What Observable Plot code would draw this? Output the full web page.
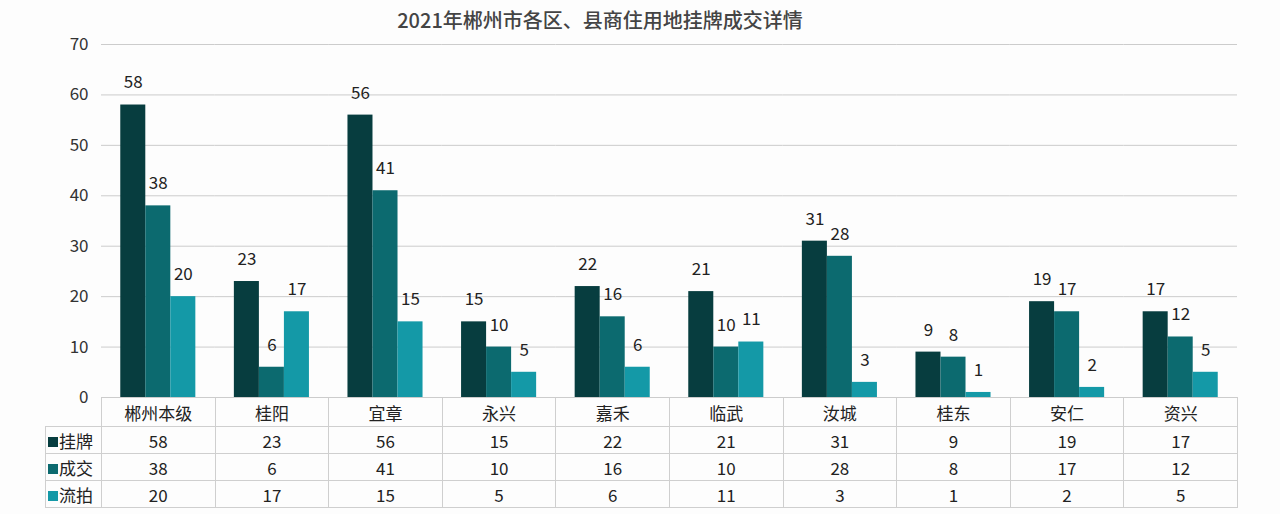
<!DOCTYPE html>
<html>
<head>
<meta charset="utf-8">
<script src="https://cdn.jsdelivr.net/npm/d3@7"></script>
<script src="https://cdn.jsdelivr.net/npm/@observablehq/plot@0.6"></script>
<style>
  html, body { margin: 0; padding: 0; background: #fdfdfd; }
  body { width: 1280px; height: 514px; overflow: hidden; font-family: "Noto Sans CJK SC", "Noto Sans", sans-serif; }
  #title { height: 40px; line-height: 40px; width: 1200px; text-align: center; font-size: 20px; color: #444; font-weight: 500; }
  #chart svg { overflow: visible; display: block; }
  table { border-collapse: collapse; margin-left: 45px; table-layout: fixed; font-size: 17px; color: #222; }
  td { border: 1px solid #cfcfcf; text-align: center; padding: 0; }
  tr.head td { height: 28px; }
  tr.row td { height: 26px; }
  td.lab { text-align: left; padding-left: 2px; white-space: nowrap; }
  td.corner { border: none; }
  .sw { display: inline-block; width: 10px; height: 10px; margin-right: 1px; vertical-align: 1px; }
</style>
</head>
<body>
<div id="title">2021年郴州市各区、县商住用地挂牌成交详情</div>
<div id="chart"></div>
<table id="tbl"></table>
<script>
const categories = ["郴州本级", "桂阳", "宜章", "永兴", "嘉禾", "临武", "汝城", "桂东", "安仁", "资兴"];
const seriesNames = ["挂牌", "成交", "流拍"];
const listed = [58, 23, 56, 15, 22, 21, 31, 9, 19, 17];
const sold = [38, 6, 41, 10, 16, 10, 28, 8, 17, 12];
const failed = [20, 17, 15, 5, 6, 11, 3, 1, 2, 5];
const yTicks = [0, 10, 20, 30, 40, 50, 60, 70];
const colors = ["#073d3f", "#0c6a6f", "#1499a7"];

const seriesValues = [listed, sold, failed];
const data = categories.flatMap((c, i) =>
  seriesNames.map((s, k) => ({cat: c, s, v: seriesValues[k][i]}))
);

const chart = Plot.plot({
  width: 1280,
  height: 357,
  marginLeft: 101,
  marginRight: 43,
  marginTop: 4,
  marginBottom: 0,
  style: {fontFamily: "'Noto Sans CJK SC', 'Noto Sans', sans-serif", fontSize: "17px", background: "transparent", overflow: "visible"},
  fx: {domain: categories, padding: 0, round: false, axis: null},
  x: {domain: seriesNames, paddingInner: 0, paddingOuter: 0.77, round: false, axis: null},
  y: {domain: [0, 70], axis: null},
  color: {domain: seriesNames, range: colors},
  marks: [
    Plot.gridY(yTicks, {stroke: "#cccccc", strokeOpacity: 1}),
    Plot.axisY(yTicks, {tickSize: 0, tickPadding: 13, fontSize: 17, fill: "#333", label: null}),
    Plot.barY(data, {fx: "cat", x: "s", y: "v", fill: "s"}),
    Plot.text(data, {fx: "cat", x: "s", y: "v", text: "v", dy: -22, fontSize: 17, fill: "#222"})
  ]
});
document.getElementById("chart").appendChild(chart);

// data table beneath the chart
const tbl = document.getElementById("tbl");
const colgroup = document.createElement("colgroup");
const c0 = document.createElement("col"); c0.style.width = "56px"; colgroup.appendChild(c0);
categories.forEach(() => { const c = document.createElement("col"); c.style.width = "113.6px"; colgroup.appendChild(c); });
tbl.appendChild(colgroup);
tbl.style.width = (56 + 113.6 * categories.length) + "px";

const head = document.createElement("tr"); head.className = "head";
const corner = document.createElement("td"); corner.className = "corner"; head.appendChild(corner);
categories.forEach(c => { const td = document.createElement("td"); td.textContent = c; head.appendChild(td); });
tbl.appendChild(head);

seriesNames.forEach((s, k) => {
  const tr = document.createElement("tr"); tr.className = "row";
  const lab = document.createElement("td"); lab.className = "lab";
  const sw = document.createElement("span"); sw.className = "sw"; sw.style.background = colors[k];
  lab.appendChild(sw); lab.appendChild(document.createTextNode(s));
  tr.appendChild(lab);
  seriesValues[k].forEach(v => { const td = document.createElement("td"); td.textContent = v; tr.appendChild(td); });
  tbl.appendChild(tr);
});
</script>
</body>
</html>
